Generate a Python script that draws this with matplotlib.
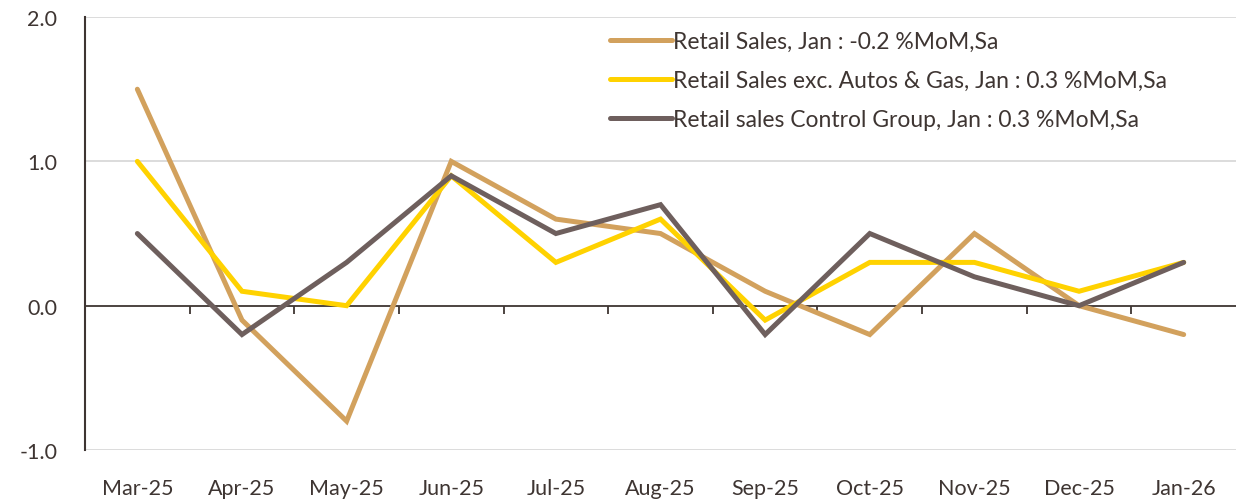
import matplotlib.pyplot as plt

months = ["Mar-25", "Apr-25", "May-25", "Jun-25", "Jul-25", "Aug-25",
          "Sep-25", "Oct-25", "Nov-25", "Dec-25", "Jan-26"]
retail_sales = [1.5, -0.1, -0.8, 1.0, 0.6, 0.5, 0.1, -0.2, 0.5, 0.0, -0.2]
ex_autos_gas = [1.0, 0.1, 0.0, 0.9, 0.3, 0.6, -0.1, 0.3, 0.3, 0.1, 0.3]
control_group = [0.5, -0.2, 0.3, 0.9, 0.5, 0.7, -0.2, 0.5, 0.2, 0.0, 0.3]
labels = [
    "Retail Sales, Jan : -0.2 %MoM,Sa",
    "Retail Sales exc. Autos & Gas, Jan : 0.3 %MoM,Sa",
    "Retail sales Control Group, Jan : 0.3 %MoM,Sa",
]
yticks = [-1.0, 0.0, 1.0, 2.0]
colors = ["#D2A15D", "#FFD200", "#6E5F5D"]
text_col = "#3E3532"

plt.rcParams["font.family"] = ["Lato", "DejaVu Sans"]

fig = plt.figure(figsize=(12.36, 5.02), dpi=100)
ax = fig.add_axes([0.0688, 0.1016, 0.9312, 0.8624])

for yv in yticks:
    if yv != 0:
        ax.axhline(yv, color="#D9D9D9", lw=1.3, zorder=0)
ax.axhline(0, color="#3E3532", lw=1.3, zorder=1)

x = range(len(months))
for ys, lab, c in zip([retail_sales, ex_autos_gas, control_group], labels, colors):
    ax.plot(x, ys, color=c, lw=3.6, label=lab, solid_capstyle="round",
            solid_joinstyle="miter", zorder=3)

ax.set_xlim(-0.5, len(months) - 0.5)
ax.set_ylim(-1.0, 2.0)
ax.set_yticks(yticks)
ax.set_yticklabels([f"{v:.1f}" for v in yticks])
ax.set_xticks(list(x))
ax.set_xticklabels(months)
ax.tick_params(axis="both", length=0, labelsize=15.5, colors=text_col)
ax.tick_params(axis="y", pad=20)
ax.tick_params(axis="x", pad=20)

for s in ["top", "right", "bottom"]:
    ax.spines[s].set_visible(False)
ax.spines["left"].set_color("#3E3532")
ax.spines["left"].set_linewidth(1.5)

# tick marks on the zero line, between categories
zero = ax.secondary_xaxis(1 / 3)
zero.set_xticks([i + 0.5 for i in range(len(months) - 1)])
zero.set_xticklabels([])
zero.tick_params(length=6, width=1.3, color="#3E3532", direction="out")
zero.spines["bottom"].set_visible(False)

leg = ax.legend(loc="upper left", bbox_to_anchor=(0.444, 1.0), frameon=False,
                fontsize=16.5, handlelength=2.7, handletextpad=0.05, labelspacing=0.78,
                borderaxespad=0.2)
for t in leg.get_texts():
    t.set_color(text_col)

plt.savefig("out.png", dpi=100)
